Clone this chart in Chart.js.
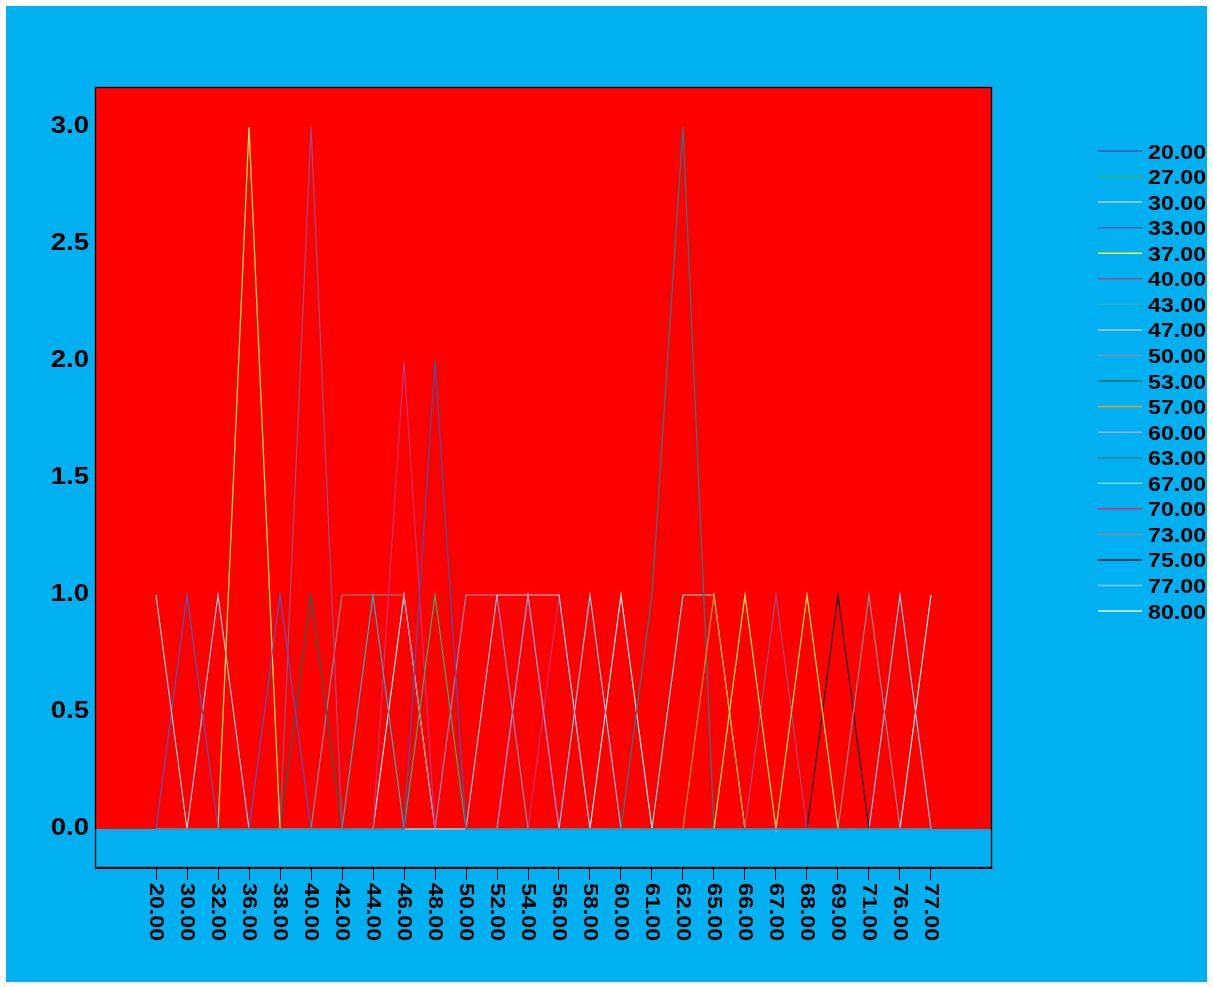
<!DOCTYPE html>
<html lang="en">
<head>
<meta charset="UTF-8">
<title>Chart</title>
<script src="https://cdn.jsdelivr.net/npm/chart.js"></script>
<style>
  body { margin: 0; background: #fff; }
  #wrap { position: absolute; left: 6px; top: 6px; }
</style>
</head>
<body>
<div id="wrap"><canvas id="grafico" width="1201" height="976"></canvas></div>
<script>
// categorias do eixo x
const categorias = ['20.00','30.00','32.00','36.00','38.00','40.00','42.00','44.00','46.00','48.00','50.00','52.00','54.00',
                    '56.00','58.00','60.00','61.00','62.00','65.00','66.00','67.00','68.00','69.00','71.00','76.00','77.00'];
const yTicks = [0, 0.5, 1, 1.5, 2, 2.5, 3];

// series (contagens por categoria)
const s20 = [0,0,0,0,0,0,0,0,0,2,0,0,0,0,0,0,0,0,0,0,0,0,0,0,0,0];
const s27 = [0,0,0,0,0,0,0,0,0,1,0,0,0,0,0,0,0,0,0,0,0,0,0,0,0,0];
const s30 = [1,0,0,0,0,0,0,0,0,0,0,0,0,0,0,0,0,0,0,0,0,0,0,0,0,0];
const s33 = [0,1,0,0,1,0,0,0,0,0,0,0,0,0,0,0,0,0,0,0,0,0,0,0,0,0];
const s37 = [0,0,0,3,0,0,0,0,0,0,0,0,0,0,0,0,0,0,0,1,0,1,0,0,0,0];
const s40 = [0,0,0,0,0,3,0,0,0,0,0,0,0,0,0,0,0,0,0,0,1,0,0,0,0,0];
const s43 = [0,0,0,0,0,0,0,1,0,0,0,0,0,0,0,0,0,0,0,0,0,0,0,0,0,0];
const s47 = [0,0,1,0,0,0,0,0,0,0,0,1,1,1,0,0,0,0,0,0,0,0,0,0,0,0];
const s50 = [0,0,0,0,0,0,0,0,0,0,1,1,0,0,0,0,0,0,0,0,0,0,0,0,0,0];
const s53 = [0,0,0,0,0,1,0,0,0,0,0,0,0,0,0,0,0,0,0,0,0,0,0,0,0,0];
const s57 = [0,0,0,0,0,0,0,0,0,0,0,0,0,0,0,0,0,0,1,0,0,0,0,0,0,0];
const s60 = [0,0,0,0,0,0,0,0,0,0,0,0,1,0,0,0,0,0,0,0,0,0,0,0,0,0];
const s63 = [0,0,0,0,0,0,0,0,0,0,0,0,0,0,0,0,1,3,0,0,0,0,0,0,0,0];
const s67 = [0,0,0,0,0,0,0,0,0,0,0,0,0,0,0,0,0,1,1,0,0,0,0,0,0,0];
const s70 = [0,0,0,0,0,0,0,0,2,0,0,0,0,1,0,0,0,0,0,0,0,0,0,0,0,0];
const s73 = [0,0,0,0,0,0,1,1,1,0,0,0,0,0,0,0,0,0,0,0,0,0,0,1,0,0];
const s75 = [0,0,0,0,0,0,0,0,0,0,0,0,0,0,0,0,0,0,0,0,0,0,1,0,0,0];
const s77 = [0,0,0,0,0,0,0,0,0,0,0,0,0,0,1,0,0,0,0,0,0,0,0,0,1,0];
const s80 = [0,0,0,0,0,0,0,0,1,0,0,0,0,0,0,1,0,0,0,0,0,0,0,0,0,1];

const nomesSeries = ['20.00','27.00','30.00','33.00','37.00','40.00','43.00','47.00','50.00','53.00',
                     '57.00','60.00','63.00','67.00','70.00','73.00','75.00','77.00','80.00'];
const valoresSeries = [s20, s27, s30, s33, s37, s40, s43, s47, s50, s53, s57, s60, s63, s67, s70, s73, s75, s77, s80];
const coresSeries = ['#3F58B5','#2BB673','#A0D8D8','#4B5CC4','#F5F040','#9A4F8A','#2BB0C0','#A9CCDC','#8A8CC8','#156B5A',
                     '#E39B26','#A5A5F0','#1F7F8F','#6FE0E0','#C8327A','#8A8C98','#0A1A3A','#7FCDEB','#E0F4F4'];

const fonte = 'bold 20px "Liberation Sans", Arial, sans-serif';
const fonteY = 'bold 23px "Liberation Sans", Arial, sans-serif';
const esticar = 1.16;

function texto(ctx, s, x, y, align, rot, f, k) {
    ctx.save();
    ctx.translate(x, y);
    if (rot) ctx.rotate(rot);
    ctx.scale(k || esticar, 1);
    ctx.font = f || fonte;
    ctx.fillStyle = '#000';
    ctx.textAlign = align;
    ctx.textBaseline = 'middle';
    ctx.fillText(s, 0, 0);
    ctx.restore();
}

const fundo = {
    id: 'fundo',
    beforeDraw(chart) {
        const ctx = chart.ctx;
        ctx.save();
        ctx.fillStyle = '#00B0F0';
        ctx.fillRect(0, 0, chart.width, chart.height);
        ctx.restore();
    },
    beforeDatasetsDraw(chart) {
        const { ctx, chartArea: a, scales: { y } } = chart;
        const y0 = y.getPixelForValue(0);
        ctx.save();
        ctx.fillStyle = '#FF0000';
        ctx.fillRect(a.left, a.top, a.right - a.left, y0 - a.top);
        ctx.restore();
    },
    afterDraw(chart) {
        const { ctx, chartArea: a, scales: { x, y } } = chart;
        // moldura
        ctx.save();
        ctx.strokeStyle = '#000';
        ctx.lineWidth = 1.3;
        ctx.strokeRect(a.left + 0.5, a.top + 0.5, a.right - a.left - 1, a.bottom - a.top - 1);
        ctx.restore();

        // rotulos do eixo y
        yTicks.forEach(v => texto(ctx, v.toFixed(1), a.left - 6, y.getPixelForValue(v), 'right', 0, fonteY, 1.2));

        // rotulos do eixo x (girados)
        categorias.forEach((c, i) => texto(ctx, c, x.getPixelForValue(i), a.bottom + 15, 'left', Math.PI / 2));

        // legenda
        chart.data.datasets.forEach((ds, i) => {
            const yy = 147 + i * 25.56;
            ctx.save();
            ctx.strokeStyle = ds.borderColor;
            ctx.lineWidth = 1.5;
            ctx.beginPath();
            ctx.moveTo(1092, yy - 2);
            ctx.lineTo(1136, yy - 2);
            ctx.stroke();
            ctx.restore();
            texto(ctx, ds.label, 1142, yy, 'left');
        });
    }
};

const datasets = nomesSeries.map((nome, k) => ({
    label: nome,
    data: valoresSeries[k].map((v, i) => ({ x: i, y: v })),
    borderColor: coresSeries[k],
    backgroundColor: coresSeries[k],
    borderWidth: 1.2,
    pointRadius: 0,
    tension: 0,
    fill: false
}));

new Chart(document.getElementById('grafico'), {
    type: 'line',
    data: { datasets: datasets },
    options: {
        responsive: false,
        animation: false,
        layout: { padding: { top: 81, right: 215, left: 0, bottom: 0 } },
        plugins: { legend: { display: false }, tooltip: { enabled: false } },
        scales: {
            x: {
                type: 'linear',
                min: -1.968,
                max: 26.968,
                afterBuildTicks: s => { s.ticks = categorias.map((c, i) => ({ value: i })); },
                afterFit: s => { s.height = 114; },
                ticks: { display: false },
                grid: { display: true, drawOnChartArea: false, drawTicks: true, tickLength: 12, color: '#000', lineWidth: 1 },
                border: { display: true, color: '#000' }
            },
            y: {
                min: -0.1667,
                max: 3.171,
                afterBuildTicks: s => { s.ticks = yTicks.map(v => ({ value: v })); },
                afterFit: s => { s.width = 89; },
                ticks: { display: false },
                grid: { display: false },
                border: { display: false }
            }
        }
    },
    plugins: [fundo]
});
</script>
</body>
</html>
